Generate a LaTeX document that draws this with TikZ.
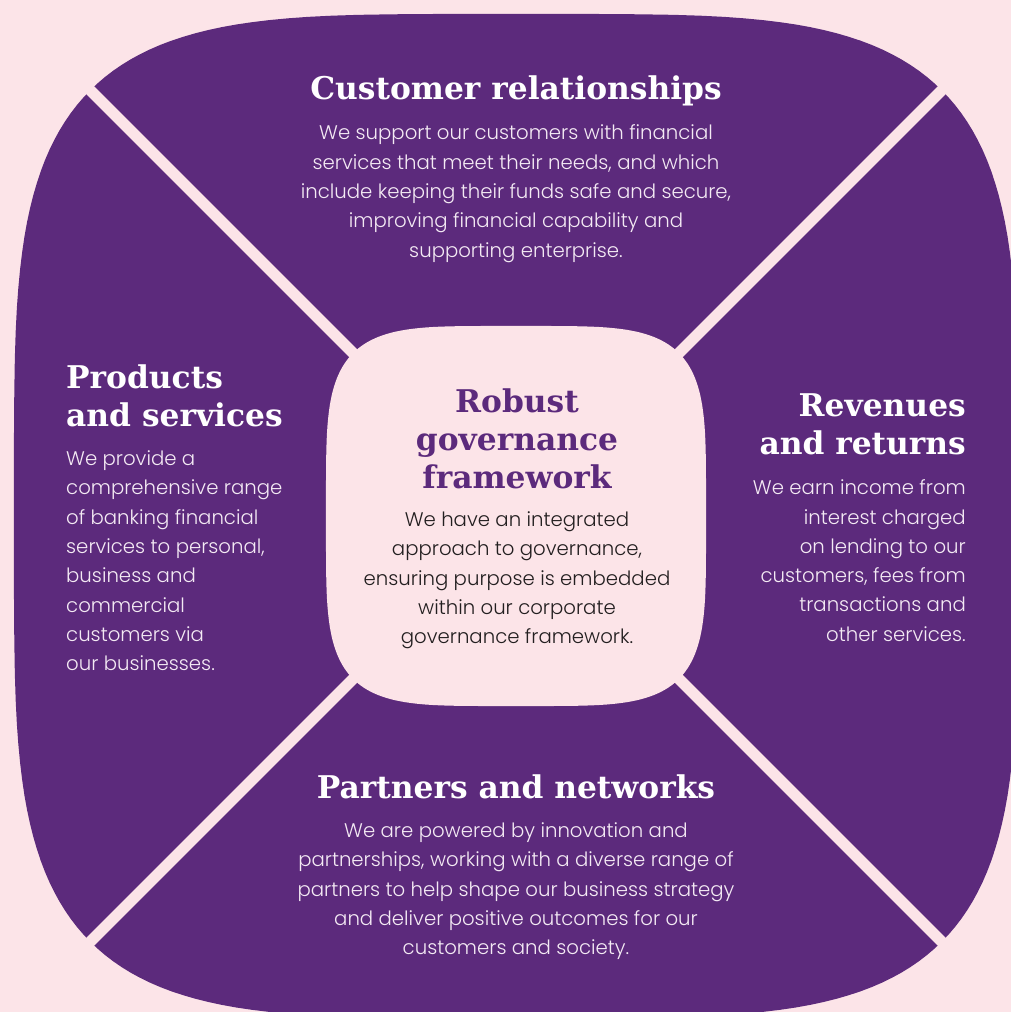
\documentclass[tikz,border=0pt]{standalone}
\usepackage{fontspec}
\usepackage{tikz}
\usetikzlibrary{positioning}
\setmainfont{Poppins Light}
\newfontfamily\slabfont{DejaVu Serif}[BoldFont={DejaVu Serif Bold}]
\definecolor{mypink}{RGB}{252,228,232}
\definecolor{mypurple}{RGB}{92,42,124}
\definecolor{mylight}{RGB}{244,234,244}
\definecolor{mydark}{RGB}{35,31,32}
\tikzset{
  title/.style={inner sep=0pt, text=white,
    font=\slabfont\bfseries\fontsize{31.3}{38}\selectfont},
  ctitle/.style={title, text=mypurple, align=center},
  blurb/.style={inner sep=0pt, text=mylight,
    font=\fontsize{19.7}{29.3}\selectfont},
  cblurb/.style={blurb, text=mydark, align=center},
  gap/.style={draw=mypink, line width=11pt}
}
\begin{document}
\begin{tikzpicture}[x=1pt, y=-1pt]
  \useasboundingbox (0,0) rectangle (1011,1012);
  \clip (0,0) rectangle (1011,1012);
  \fill[mypink] (0,0) rectangle (1011,1012);

  % outer squircle and the four cuts
  \fill[mypurple] plot[domain=1:361, samples=181, variable=\t]
    ({516+502*sign(cos(\t))*pow(abs(cos(\t)),0.476)},
     {516+502*sign(sin(\t))*pow(abs(sin(\t)),0.476)}) -- cycle;
  \coordinate (nw) at (0,0);
  \coordinate (ne) at (1032,0);
  \coordinate (sw) at (0,1032);
  \coordinate (se) at (1032,1032);
  \draw[gap] (nw) -- (se);
  \draw[gap] (ne) -- (sw);

  % inner squircle
  \fill[mypink] plot[domain=1:361, samples=181, variable=\t]
    ({516+190*sign(cos(\t))*pow(abs(cos(\t)),0.444)},
     {516+190*sign(sin(\t))*pow(abs(sin(\t)),0.444)}) -- cycle;

  % top
  \node[title, anchor=north] (cust) at (516,76) {Customer relationships};
  \node[blurb, align=center, below=18pt of cust] (custtxt)
    {We support our customers with financial\\services that meet their needs, and which\\include keeping their funds safe and secure,\\improving financial capability and\\supporting enterprise.};

  % left
  \node[title, align=left, anchor=north west] (prod) at (66,365)
    {Products\\and services};
  \node[blurb, align=left, below=23pt of prod.south west, anchor=north west] (prodtxt)
    {We provide a\\comprehensive range\\of banking financial\\services to personal,\\business and\\commercial\\customers via\\our businesses.};

  % right
  \node[title, align=right, anchor=north east] (rev) at (966,393)
    {Revenues\\and returns};
  \node[blurb, align=right, below=25pt of rev.south east, anchor=north east] (revtxt)
    {We earn income from\\interest charged\\on lending to our\\customers, fees from\\transactions and\\other services.};

  % centre
  \node[ctitle, anchor=north] (gov) at (517,389) {Robust\\governance\\framework};
  \node[cblurb, below=22pt of gov] (govtxt)
    {We have an integrated\\approach to governance,\\ensuring purpose is embedded\\within our corporate\\governance framework.};

  % bottom
  \node[title, anchor=north] (part) at (516,775) {Partners and networks};
  \node[blurb, align=center, below=23pt of part] (parttxt)
    {We are powered by innovation and\\partnerships, working with a diverse range of\\partners to help shape our business strategy\\and deliver positive outcomes for our\\customers and society.};
\end{tikzpicture}
\end{document}
